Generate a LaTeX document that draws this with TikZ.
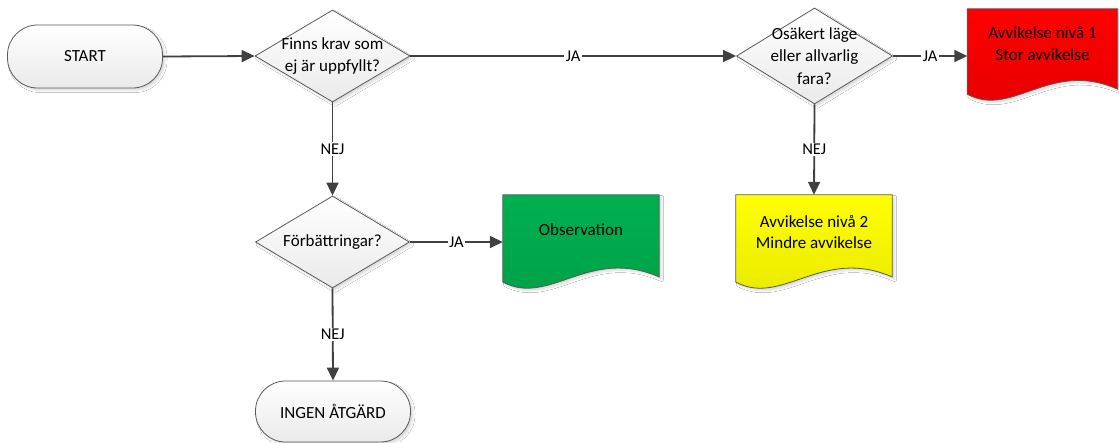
\documentclass[tikz,border=0pt]{standalone}
\usepackage{fontspec}
\setmainfont{Carlito}
\usetikzlibrary{arrows.meta,shapes.geometric,shadows.blur,calc}

\definecolor{linegray}{HTML}{404040}
\definecolor{edgegray}{HTML}{5A5A5A}
\definecolor{paleshade}{HTML}{EAEAEA}
\definecolor{docgreen}{HTML}{00B050}
\definecolor{docgreendk}{HTML}{00A046}
\definecolor{docred}{HTML}{FF0000}
\definecolor{docreddk}{HTML}{E40000}
\definecolor{docyellow}{HTML}{FFFF00}
\definecolor{docyellowdk}{HTML}{E8E800}

\tikzset{
  txt/.style={font=\fontsize{17}{21.5}\selectfont, text=black, align=center, inner sep=0pt},
  softshadow/.style={blur shadow={shadow xshift=2.5pt, shadow yshift=-2.5pt,
      shadow blur steps=4, shadow blur radius=2pt, shadow opacity=14}},
  terminal/.style={draw=edgegray, line width=0.8pt, rounded corners=30pt,
      minimum width=155pt, top color=white, bottom color=paleshade, softshadow},
  decision/.style={diamond, draw=edgegray, line width=0.8pt, inner sep=0pt,
      top color=white, bottom color=paleshade, softshadow},
  docbox/.style={inner sep=0pt, minimum height=93pt},
  docedge/.style={draw=edgegray, line width=0.8pt, softshadow},
  flow/.style={draw=linegray, line width=1.8pt, -{Triangle[length=13pt,width=12pt]}},
  answer/.style={fill=white, inner sep=1.5pt, font=\fontsize{16.5}{19}\selectfont, text=black},
}

% Document sheet with a wavy lower edge, drawn over the frame of node #1
\newcommand\docsheet[3]{%
  \path[docedge, top color=#2, bottom color=#3]
    let \p1=(#1.north west), \p2=(#1.south east),
        \n1={\x2-\x1}, \n2={\y1-\y2} in
    (\p1) -- (\x2,\y1) -- (\x2,{\y1-0.88*\n2})
    .. controls ({\x1+0.55*\n1},{\y1-0.55*\n2}) and ({\x1+0.3*\n1},{\y1-1.2*\n2})
    .. (\x1,{\y1-0.935*\n2}) -- cycle;}

\begin{document}
\begin{tikzpicture}[x=1pt, y=-1pt]
\useasboundingbox[fill=white] (0,0) rectangle (1119,442);

% terminals
\node[terminal, minimum height=63pt] (start) at (85,56.5) {};
\node[txt] (start-t) at (start) {START};
\node[terminal, minimum height=61pt] (none) at (333,411.5) {};
\node[txt] (none-t) at (none) {INGEN ÅTGÄRD};

% decisions
\node[decision, minimum width=155pt, minimum height=92pt] (req) at (332.5,56) {};
\node[txt] (req-t) at (req) {Finns krav som\\ej är uppfyllt?};
\node[decision, minimum width=156pt, minimum height=96pt] (risk) at (814.5,56) {};
\node[txt, font=\fontsize{17}{22.5}\selectfont] (risk-t) at (risk) {Osäkert läge\\eller allvarlig\\fara?};
\node[decision, minimum width=154pt, minimum height=92pt] (impr) at (332.5,242) {};
\node[txt] (impr-t) at (impr) {Förbättringar?};

% outcome documents
\node[docbox, minimum width=150pt, minimum height=91pt] (lvl1) at (1042.5,54.5) {};
\docsheet{lvl1}{docred}{docreddk}
\node[txt, font=\fontsize{17}{22}\selectfont] (lvl1-t) at ($(lvl1.north)+(0,35)$) {Avvikelse nivå 1\\Stor avvikelse};

\node[docbox, minimum width=156pt] (lvl2) at (814,241.5) {};
\docsheet{lvl2}{docyellow}{docyellowdk}
\node[txt, font=\fontsize{17}{20.5}\selectfont] (lvl2-t) at ($(lvl2.north)+(0,37)$) {Avvikelse nivå 2\\Mindre avvikelse};

\node[docbox, minimum width=156pt] (obs) at (581,241.5) {};
\docsheet{obs}{docgreen}{docgreendk}
\node[txt] (obs-t) at ($(obs.north)+(0,35)$) {Observation};

% connectors
\draw[flow] (start.east) -- (req.west);
\draw[flow] (req.east) -- node[answer] {JA} (risk.west);
\draw[flow] (risk.east) -- node[answer] {JA} (lvl1.west |- risk.east);
\draw[flow] (req.south) -- node[answer] {NEJ} (impr.north);
\draw[flow] (risk.south) -- node[answer] {NEJ} (lvl2.north);
\draw[flow] (impr.east) -- node[answer] {JA} (obs.west |- impr.east);
\draw[flow] (impr.south) -- node[answer] {NEJ} (none.north);
\end{tikzpicture}
\end{document}
